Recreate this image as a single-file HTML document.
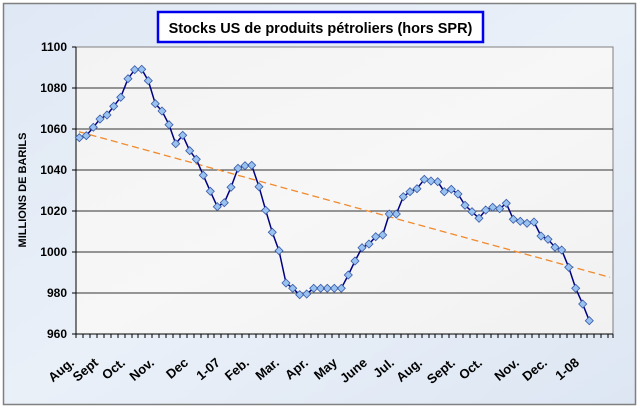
<!DOCTYPE html>
<html><head><meta charset="utf-8"><style>
html,body{margin:0;padding:0;}
body{width:640px;height:409px;overflow:hidden;background:#fff;}
svg{display:block;font-family:"Liberation Sans",Arial,sans-serif;}
</style></head><body>
<svg width="640" height="409" viewBox="0 0 640 409" xmlns="http://www.w3.org/2000/svg">
<defs>
<linearGradient id="bg" x1="0" y1="0" x2="1" y2="1">
<stop offset="0" stop-color="#dfe8f5"/><stop offset="0.5" stop-color="#eaf0f8"/><stop offset="1" stop-color="#dde6f3"/>
</linearGradient>
<linearGradient id="pa" x1="0" y1="0" x2="1" y2="1">
<stop offset="0" stop-color="#f3f3f3"/><stop offset="0.5" stop-color="#f7f7f7"/><stop offset="1" stop-color="#f1f1f1"/>
</linearGradient>
</defs>
<rect x="0" y="0" width="640" height="409" fill="#fff"/>
<rect x="3.5" y="3.5" width="632" height="401" fill="url(#bg)" stroke="#808080" stroke-width="1.5"/>
<rect x="76" y="47" width="537" height="287" fill="url(#pa)" stroke="#808080" stroke-width="1"/>
<g stroke="#333" stroke-width="1">
<line x1="76" y1="88" x2="613" y2="88"/>
<line x1="76" y1="129" x2="613" y2="129"/>
<line x1="76" y1="170" x2="613" y2="170"/>
<line x1="76" y1="211" x2="613" y2="211"/>
<line x1="76" y1="252" x2="613" y2="252"/>
<line x1="76" y1="293" x2="613" y2="293"/>
</g>
<g stroke="#000" stroke-width="1">
<line x1="76" y1="47" x2="76" y2="334"/>
<line x1="72" y1="334" x2="613" y2="334"/>
<line x1="72" y1="47" x2="76" y2="47"/><line x1="72" y1="88" x2="76" y2="88"/><line x1="72" y1="129" x2="76" y2="129"/><line x1="72" y1="170" x2="76" y2="170"/><line x1="72" y1="211" x2="76" y2="211"/><line x1="72" y1="252" x2="76" y2="252"/><line x1="72" y1="293" x2="76" y2="293"/>
</g>
<path stroke="#000" stroke-width="1" d="M76 334v4M83 334v4M90 334v4M97 334v4M104 334v4M111 334v4M118 334v4M125 334v4M132 334v4M138 334v4M145 334v4M152 334v4M159 334v4M166 334v4M173 334v4M180 334v4M187 334v4M194 334v4M201 334v4M208 334v4M214 334v4M221 334v4M228 334v4M235 334v4M242 334v4M249 334v4M256 334v4M263 334v4M270 334v4M277 334v4M284 334v4M290 334v4M297 334v4M304 334v4M311 334v4M318 334v4M325 334v4M332 334v4M339 334v4M346 334v4M353 334v4M360 334v4M366 334v4M373 334v4M380 334v4M387 334v4M394 334v4M401 334v4M408 334v4M415 334v4M422 334v4M429 334v4M435 334v4M442 334v4M449 334v4M456 334v4M463 334v4M470 334v4M477 334v4M484 334v4M491 334v4M498 334v4M505 334v4M511 334v4M518 334v4M525 334v4M532 334v4M539 334v4M546 334v4M553 334v4M560 334v4M567 334v4M574 334v4M581 334v4M587 334v4M594 334v4M601 334v4M608 334v4M613 334v4"/>
<g font-size="12" font-weight="bold" text-anchor="end" fill="#000">
<text x="67" y="51">1100</text><text x="67" y="92">1080</text><text x="67" y="133">1060</text><text x="67" y="174">1040</text><text x="67" y="215">1020</text><text x="67" y="256">1000</text><text x="67" y="297">980</text><text x="67" y="338">960</text>
</g>
<text transform="translate(26,190) rotate(-90)" font-size="11" font-weight="bold" text-anchor="middle">MILLIONS DE BARILS</text>
<g font-size="13" font-weight="bold" text-anchor="end">
<text transform="translate(75,364) rotate(-40)">Aug.</text>
<text transform="translate(99,364) rotate(-40)">Sept</text>
<text transform="translate(126,364) rotate(-40)">Oct.</text>
<text transform="translate(155,364) rotate(-40)">Nov.</text>
<text transform="translate(189,364) rotate(-40)">Dec</text>
<text transform="translate(221,364) rotate(-40)">1-07</text>
<text transform="translate(250,364) rotate(-40)">Feb.</text>
<text transform="translate(280,364) rotate(-40)">Mar.</text>
<text transform="translate(309,364) rotate(-40)">Apr.</text>
<text transform="translate(338,364) rotate(-40)">May</text>
<text transform="translate(368,364) rotate(-40)">June</text>
<text transform="translate(395,364) rotate(-40)">Jul.</text>
<text transform="translate(423,364) rotate(-40)">Aug.</text>
<text transform="translate(456,364) rotate(-40)">Sept.</text>
<text transform="translate(483,364) rotate(-40)">Oct.</text>
<text transform="translate(520,364) rotate(-40)">Nov.</text>
<text transform="translate(548,364) rotate(-40)">Dec.</text>
<text transform="translate(580,364) rotate(-40)">1-08</text>
</g>
<line x1="79" y1="131.7" x2="610" y2="277.3" stroke="#f08a2c" stroke-width="1.3" stroke-dasharray="7,4"/>
<polyline fill="none" stroke="#000080" stroke-width="1.5" points="79.3,137.7 86.3,135.7 93.3,127.3 100,119 107,115 113.7,106.3 120.7,97.3 128,78.7 134.7,69.7 141.7,69.3 148.3,80.7 155.3,103.7 162,111 169,124.7 175.7,143.7 182.7,135.3 189.7,150.7 196.3,159.3 203.3,175.3 210.3,191.3 217.3,206.7 224.3,202.7 231,187.3 238,168.3 245,165.7 251.7,165.3 259,186.7 265.7,210.3 272.3,232.3 279,250.7 286,283 292.7,288.3 299.7,294.7 306.7,294 313.7,288.3 320.7,288.3 327.3,288.3 334.3,288.3 341.3,288.3 348.3,275 355,261 362,247.7 369,244 375.7,236.7 382.7,235 389.3,214 396.3,214 403.3,196.7 410,191.7 417,188.7 424.3,179.3 431,181 437.7,181.7 444.3,191.7 451.3,189.3 458,194 465,205.3 472,211.7 479,218.3 485.7,210 492.7,207.3 499.7,208.7 506.3,203.3 513.3,219.3 520.3,221.3 527,223.3 534,222 541,236 548,239.3 555,247.3 561.7,250 568.7,267.3 575.7,288.3 582.7,304 589.3,320.7"/>
<path fill="#99c2f0" stroke="#3a5ca8" stroke-width="0.8" d="M79.3,133.7l4,4l-4,4l-4,-4zM86.3,131.7l4,4l-4,4l-4,-4zM93.3,123.3l4,4l-4,4l-4,-4zM100,115l4,4l-4,4l-4,-4zM107,111l4,4l-4,4l-4,-4zM113.7,102.3l4,4l-4,4l-4,-4zM120.7,93.3l4,4l-4,4l-4,-4zM128,74.7l4,4l-4,4l-4,-4zM134.7,65.7l4,4l-4,4l-4,-4zM141.7,65.3l4,4l-4,4l-4,-4zM148.3,76.7l4,4l-4,4l-4,-4zM155.3,99.7l4,4l-4,4l-4,-4zM162,107l4,4l-4,4l-4,-4zM169,120.7l4,4l-4,4l-4,-4zM175.7,139.7l4,4l-4,4l-4,-4zM182.7,131.3l4,4l-4,4l-4,-4zM189.7,146.7l4,4l-4,4l-4,-4zM196.3,155.3l4,4l-4,4l-4,-4zM203.3,171.3l4,4l-4,4l-4,-4zM210.3,187.3l4,4l-4,4l-4,-4zM217.3,202.7l4,4l-4,4l-4,-4zM224.3,198.7l4,4l-4,4l-4,-4zM231,183.3l4,4l-4,4l-4,-4zM238,164.3l4,4l-4,4l-4,-4zM245,161.7l4,4l-4,4l-4,-4zM251.7,161.3l4,4l-4,4l-4,-4zM259,182.7l4,4l-4,4l-4,-4zM265.7,206.3l4,4l-4,4l-4,-4zM272.3,228.3l4,4l-4,4l-4,-4zM279,246.7l4,4l-4,4l-4,-4zM286,279l4,4l-4,4l-4,-4zM292.7,284.3l4,4l-4,4l-4,-4zM299.7,290.7l4,4l-4,4l-4,-4zM306.7,290l4,4l-4,4l-4,-4zM313.7,284.3l4,4l-4,4l-4,-4zM320.7,284.3l4,4l-4,4l-4,-4zM327.3,284.3l4,4l-4,4l-4,-4zM334.3,284.3l4,4l-4,4l-4,-4zM341.3,284.3l4,4l-4,4l-4,-4zM348.3,271l4,4l-4,4l-4,-4zM355,257l4,4l-4,4l-4,-4zM362,243.7l4,4l-4,4l-4,-4zM369,240l4,4l-4,4l-4,-4zM375.7,232.7l4,4l-4,4l-4,-4zM382.7,231l4,4l-4,4l-4,-4zM389.3,210l4,4l-4,4l-4,-4zM396.3,210l4,4l-4,4l-4,-4zM403.3,192.7l4,4l-4,4l-4,-4zM410,187.7l4,4l-4,4l-4,-4zM417,184.7l4,4l-4,4l-4,-4zM424.3,175.3l4,4l-4,4l-4,-4zM431,177l4,4l-4,4l-4,-4zM437.7,177.7l4,4l-4,4l-4,-4zM444.3,187.7l4,4l-4,4l-4,-4zM451.3,185.3l4,4l-4,4l-4,-4zM458,190l4,4l-4,4l-4,-4zM465,201.3l4,4l-4,4l-4,-4zM472,207.7l4,4l-4,4l-4,-4zM479,214.3l4,4l-4,4l-4,-4zM485.7,206l4,4l-4,4l-4,-4zM492.7,203.3l4,4l-4,4l-4,-4zM499.7,204.7l4,4l-4,4l-4,-4zM506.3,199.3l4,4l-4,4l-4,-4zM513.3,215.3l4,4l-4,4l-4,-4zM520.3,217.3l4,4l-4,4l-4,-4zM527,219.3l4,4l-4,4l-4,-4zM534,218l4,4l-4,4l-4,-4zM541,232l4,4l-4,4l-4,-4zM548,235.3l4,4l-4,4l-4,-4zM555,243.3l4,4l-4,4l-4,-4zM561.7,246l4,4l-4,4l-4,-4zM568.7,263.3l4,4l-4,4l-4,-4zM575.7,284.3l4,4l-4,4l-4,-4zM582.7,300l4,4l-4,4l-4,-4zM589.3,316.7l4,4l-4,4l-4,-4z"/>
<rect x="158" y="12" width="325" height="30" fill="#fff" stroke="#0000ee" stroke-width="2.5"/>
<text x="320.5" y="33" font-size="14.5" font-weight="bold" text-anchor="middle">Stocks US de produits pétroliers (hors SPR)</text>
</svg>
</body></html>
